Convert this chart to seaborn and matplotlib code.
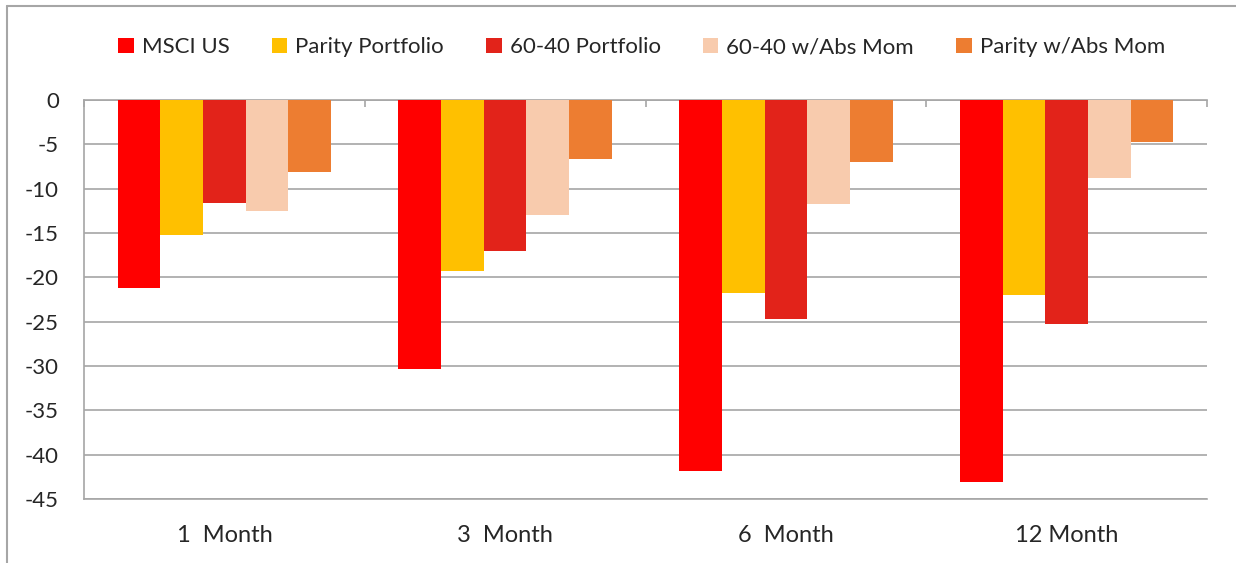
import pandas as pd
import matplotlib.pyplot as plt
import seaborn as sns
from matplotlib.lines import Line2D

# Données
periodes = ["1  Month", "3  Month", "6  Month", "12 Month"]
series = ["MSCI US", "Parity Portfolio", "60-40 Portfolio", "60-40 w/Abs Mom", "Parity w/Abs Mom"]
msci_us = [-21.2, -30.3, -41.8, -43.1]
parity = [-15.2, -19.3, -21.8, -22.05]
p6040 = [-11.6, -17.0, -24.7, -25.3]
p6040_abs = [-12.5, -13.0, -11.7, -8.75]
parity_abs = [-8.1, -6.65, -6.95, -4.77]
couleurs = ["#FF0000", "#FFC000", "#E2231A", "#F8CBAD", "#ED7D31"]
yticks = list(range(0, -50, -5))

valeurs = [msci_us, parity, p6040, p6040_abs, parity_abs]
df = pd.DataFrame({
    "Periode": periodes * len(series),
    "Serie": [s for s in series for _ in periodes],
    "Valeur": [v for vals in valeurs for v in vals],
})

sns.set_style("white")
plt.rcParams["font.family"] = ["Lato", "DejaVu Sans"]
plt.rcParams["axes.unicode_minus"] = False

fig = plt.figure(figsize=(12.36, 5.63), dpi=100)
ax = fig.add_axes([0.068, 0.1137, 0.9085, 0.7087])

sns.barplot(data=df, x="Periode", y="Valeur", hue="Serie", order=periodes,
            hue_order=series, palette=couleurs, width=0.76, gap=0,
            saturation=1, linewidth=0, ax=ax, legend=True)

ax.set_ylim(-45, 0)
ax.set_xlim(-0.5, len(periodes) - 0.5)
ax.set_yticks(yticks)
ax.set_xlabel("")
ax.set_ylabel("")
ax.yaxis.grid(True, color="#A6A6A6", linewidth=1.2)
ax.set_axisbelow(True)
for sp in ["top", "right"]:
    ax.spines[sp].set_visible(False)
for sp in ["left", "bottom"]:
    ax.spines[sp].set_color("#A6A6A6")
    ax.spines[sp].set_linewidth(1.2)
ax.tick_params(axis="y", length=6, width=1.2, color="#A6A6A6", pad=12, labelsize=16)
ax.tick_params(axis="x", length=0, pad=19, labelsize=17)

# Axe des catégories croisé à zéro (petites graduations entre groupes)
ax2 = ax.secondary_xaxis("top")
ax2.set_xticks([i - 0.5 for i in range(len(periodes) + 1)])
ax2.tick_params(direction="in", length=5, width=1.2, color="#A6A6A6", labeltop=False)
ax2.spines["top"].set_color("#A6A6A6")
ax2.spines["top"].set_linewidth(1.2)

ax.legend(loc="center", bbox_to_anchor=(0.519, 0.916), bbox_transform=fig.transFigure,
          ncol=5, frameon=False, fontsize=16, handlelength=0.7, handleheight=0.7,
          handletextpad=0.36, columnspacing=1.9)

# Cadre du graphique (haut et gauche visibles)
fig.add_artist(Line2D([0.0057, 1], [0.9893, 0.9893], transform=fig.transFigure,
                      color="#A6A6A6", linewidth=1.5))
fig.add_artist(Line2D([0.0057, 0.0057], [0, 0.9893], transform=fig.transFigure,
                      color="#A6A6A6", linewidth=1.5))

fig.savefig("out.png", dpi=100)
